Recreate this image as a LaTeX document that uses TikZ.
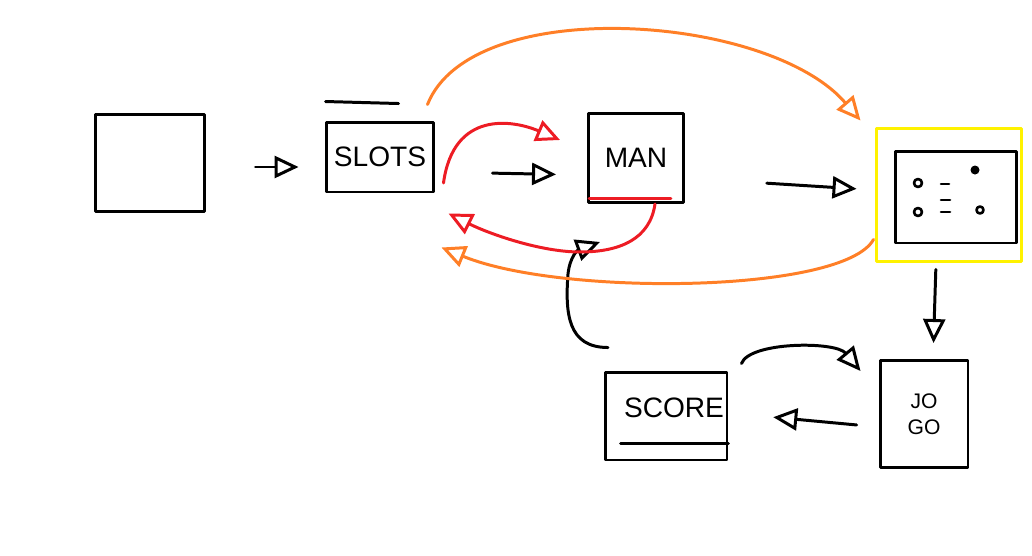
\documentclass[tikz,border=0pt]{standalone}
\usepackage{fontspec}
\setmainfont{Liberation Sans}
\usetikzlibrary{arrows.meta,calc}
\definecolor{pred}{RGB}{237,28,36}
\definecolor{porange}{RGB}{255,127,39}
\definecolor{pyellow}{RGB}{255,242,0}
\begin{document}
\begin{tikzpicture}[x=0.02cm,y=-0.02cm, line width=1.7pt, line join=round, line cap=round,
  box/.style={draw=black, line width=1.7pt, inner sep=0pt},
  lbl/.style={font=\fontsize{16}{18}\selectfont},
  arr/.style={-{Triangle[open,length=0.48cm,width=0.44cm]}},
  redline/.style={draw=pred},
  orangeline/.style={draw=porange},
  gridmark/.style={line width=1.5pt}
]
\useasboundingbox (0,0) rectangle (1032,555);

% nodes
\node[box, minimum width=2.2cm, minimum height=1.94cm] (start) at (150,163) {};
\node[box, lbl, minimum width=2.16cm, minimum height=1.4cm] (slots) at (380,157) {SLOTS};
\node[box, lbl, minimum width=1.9cm, minimum height=1.78cm] (main) at (636,158) {MAN};
\node[draw=pyellow, line width=1.7pt, minimum width=2.92cm, minimum height=2.68cm] (game) at (949,195) {};
\node[box, minimum width=2.42cm, minimum height=1.84cm] (grid) at (956,197) {};
\node[box, minimum width=1.76cm, minimum height=2.14cm, align=center, font=\fontsize{12}{15}\selectfont] (jogo) at (924,414) {JO\\GO};
\node[box, minimum width=2.44cm, minimum height=1.76cm] (score) at (666,416) {};
\node[lbl] (scorelbl) at ($(score.center)+(8,-8)$) {SCORE};

% decorations of boxes
\draw ($(slots.north west)+(1,-19)$) -- ($(slots.north west)+(74,-17)$);
\draw[redline] ($(main.south west)+(2,-5)$) -- ($(main.south east)+(-14,-5)$);
\draw ($(score.south west)+(17,-18)$) -- ($(score.south east)+(0,-18)$);

% grid marks
\draw[gridmark] ($(grid.center)+(-38,-14)$) circle[radius=0.08cm];
\draw[gridmark] ($(grid.center)+(-38,15)$) circle[radius=0.08cm];
\draw[gridmark] ($(grid.center)+(24,13)$) circle[radius=0.07cm];
\fill ($(grid.center)+(19,-27)$) circle[radius=0.09cm];
\draw[gridmark] ($(grid.center)+(-15,-13)$) -- ++(8,0);
\draw[gridmark] ($(grid.center)+(-15,3)$) -- ++(9,0);
\draw[gridmark] ($(grid.center)+(-15,15)$) -- ++(9,0);

% black connectors
\draw[arr, shorten <=0.98cm, shorten >=0.52cm] ($(start.east)+(0,4)$) -- ($(slots.west)+(0,10)$);
\draw[arr, shorten <=1.14cm, shorten >=0.62cm] ($(slots.east)+(0,15)$) -- ($(main.west)+(0,17)$);
\draw[arr, shorten <=1.64cm, shorten >=0.36cm] ($(main.east)+(0,20)$) -- ($(game.west)+(0,-5)$);
\draw[arr, shorten <=0.12cm, shorten >=0.32cm] ($(game.south)+(-13,0)$) -- ($(jogo.north)+(9,0)$);
\draw[arr, shorten <=0.44cm, shorten >=0.9cm] ($(jogo.west)+(0,13)$) -- ($(score.east)+(0,-3)$);
\draw[arr] ($(score.north east)+(13,-7)$) .. controls +(8,-22) and +(-25,-30) .. ($(jogo.north west)+(-18,12)$);
\draw[arr] ($(score.north)+(-58,-23)$) .. controls +(-40,0) and +(-3,40) .. ($(main.south)+(-68,70)$)
  .. controls +(2,-18) and +(-22,8) .. ($(main.south)+(-36,38)$);

% red connectors
\draw[redline, arr] ($(slots.east)+(8,26)$) .. controls +(10,-73) and +(-47,-20) .. ($(main.west)+(-27,-18)$);
\draw[redline, arr] ($(main.south)+(19,0)$) .. controls +(-5,35) and +(40,0) .. ($(main.south)+(-56,48)$)
  .. controls +(-40,0) and +(40,20) .. ($(slots.south east)+(13,20)$);

% orange connectors
\draw[orangeline, arr] ($(slots.north east)+(-8,-16)$) .. controls +(44,-111) and +(-92,-107) .. ($(game.north west)+(-14,-6)$);
\draw[orangeline, arr] ($(game.south west)+(-1,-24)$) .. controls +(-30,54) and +(120,49) .. ($(slots.south east)+(6,54)$);
\end{tikzpicture}
\end{document}
